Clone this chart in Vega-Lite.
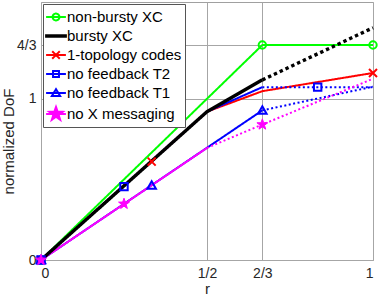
{
  "$schema": "https://vega.github.io/schema/vega-lite/v6.json",
  "width": 332,
  "height": 258,
  "autosize": {"type": "none"},
  "padding": {"left": 41, "top": 2, "right": 8, "bottom": 38},
  "background": "white",
  "config": {
    "font": "Liberation Sans",
    "view": {"stroke": "#a0a0a0", "strokeWidth": 1},
    "axis": {
      "labelFont": "Liberation Sans",
      "titleFont": "Liberation Sans",
      "labelFontSize": 14,
      "titleFontSize": 15,
      "titleFontWeight": "normal",
      "labelColor": "#262626",
      "titleColor": "#262626",
      "gridColor": "#a6a6a6",
      "gridOpacity": 1,
      "gridWidth": 1,
      "ticks": false,
      "domain": false
    },
    "legend": {
      "orient": "top-left",
      "offset": 1.5,
      "padding": 3,
      "fillColor": "white",
      "strokeColor": "#555555",
      "labelFont": "Liberation Sans",
      "labelFontSize": 15,
      "labelColor": "#000000",
      "labelOffset": 1,
      "symbolSize": 324,
      "symbolStrokeWidth": 2,
      "symbolOpacity": 1,
      "symbolDash": [1, 0],
      "rowPadding": 1,
      "labelLimit": 300
    }
  },
  "datasets": {
    "lines": [
      {"series": "non-bursty XC", "segment": "main", "r": 0, "dof": 0},
      {"series": "non-bursty XC", "segment": "main", "r": 0.666667, "dof": 1.333333},
      {"series": "non-bursty XC", "segment": "main", "r": 1, "dof": 1.333333},
      {"series": "1-topology codes", "segment": "main", "r": 0, "dof": 0},
      {"series": "1-topology codes", "segment": "main", "r": 0.5, "dof": 0.92},
      {"series": "1-topology codes", "segment": "main", "r": 0.666667, "dof": 1.047},
      {"series": "1-topology codes", "segment": "main", "r": 1, "dof": 1.16},
      {"series": "no feedback T2", "segment": "main", "r": 0, "dof": 0},
      {"series": "no feedback T2", "segment": "main", "r": 0.5, "dof": 0.92},
      {"series": "no feedback T2", "segment": "main", "r": 0.666667, "dof": 1.072},
      {"series": "no feedback T2", "segment": "extension", "r": 0.666667, "dof": 1.072},
      {"series": "no feedback T2", "segment": "extension", "r": 1, "dof": 1.072},
      {"series": "no feedback T1", "segment": "main", "r": 0, "dof": 0},
      {"series": "no feedback T1", "segment": "main", "r": 0.666667, "dof": 0.928},
      {"series": "no feedback T1", "segment": "extension", "r": 0.666667, "dof": 0.928},
      {"series": "no feedback T1", "segment": "extension", "r": 1, "dof": 1.075},
      {"series": "no X messaging", "segment": "main", "r": 0, "dof": 0},
      {"series": "no X messaging", "segment": "main", "r": 0.5, "dof": 0.695},
      {"series": "no X messaging", "segment": "extension", "r": 0.5, "dof": 0.695},
      {"series": "no X messaging", "segment": "extension", "r": 0.666667, "dof": 0.84},
      {"series": "no X messaging", "segment": "extension", "r": 1, "dof": 1.124},
      {"series": "bursty XC", "segment": "main", "r": 0, "dof": 0},
      {"series": "bursty XC", "segment": "main", "r": 0.5, "dof": 0.92},
      {"series": "bursty XC", "segment": "main", "r": 0.666667, "dof": 1.117},
      {"series": "bursty XC", "segment": "extension", "r": 0.666667, "dof": 1.117},
      {"series": "bursty XC", "segment": "extension", "r": 1, "dof": 1.44}
    ],
    "markers": [
      {"series": "non-bursty XC", "r": 0, "dof": 0},
      {"series": "non-bursty XC", "r": 0.666667, "dof": 1.333333},
      {"series": "non-bursty XC", "r": 1, "dof": 1.333333},
      {"series": "1-topology codes", "r": 0, "dof": 0},
      {"series": "1-topology codes", "r": 0.333333, "dof": 0.61},
      {"series": "1-topology codes", "r": 1, "dof": 1.16},
      {"series": "no feedback T2", "r": 0, "dof": 0},
      {"series": "no feedback T2", "r": 0.25, "dof": 0.455},
      {"series": "no feedback T2", "r": 0.833333, "dof": 1.072},
      {"series": "no feedback T1", "r": 0, "dof": 0},
      {"series": "no feedback T1", "r": 0.333333, "dof": 0.463},
      {"series": "no feedback T1", "r": 0.666667, "dof": 0.928},
      {"series": "no X messaging", "r": 0, "dof": 0},
      {"series": "no X messaging", "r": 0.25, "dof": 0.348},
      {"series": "no X messaging", "r": 0.666667, "dof": 0.84}
    ]
  },
  "encoding": {
    "x": {
      "field": "r", "type": "quantitative",
      "scale": {"domain": [0, 1], "nice": false, "zero": false},
      "axis": {
        "title": "r",
        "values": [0, 0.5, 0.666667, 1],
        "labelExpr": "datum.value == 0 ? '0' : datum.value == 0.5 ? '1/2' : datum.value == 1 ? '1' : '2/3'",
        "labelPadding": 6,
        "titlePadding": 1,
        "grid": true
      }
    },
    "y": {
      "field": "dof", "type": "quantitative",
      "scale": {"domain": [0, 1.6], "nice": false, "zero": false},
      "axis": {
        "title": "normalized DoF",
        "values": [0, 1, 1.333333],
        "labelExpr": "datum.value == 0 ? '0' : datum.value == 1 ? '1' : '4/3'",
        "labelPadding": 5,
        "titlePadding": 0,
        "titleY": 139,
        "grid": true
      }
    }
  },
  "layer": [
    {
      "data": {"name": "markers"},
      "transform": [{"filter": "false"}],
      "mark": {"type": "point", "filled": false, "size": 324, "strokeWidth": 2, "opacity": 1},
      "encoding": {
        "stroke": {
          "field": "series", "type": "nominal",
          "scale": {
            "domain": ["non-bursty XC", "bursty XC", "1-topology codes", "no feedback T2", "no feedback T1", "no X messaging"],
            "range": ["#00ff00", "#000000", "#ff0000", "#0000ff", "#0000ff", "#ff00ff"]
          },
          "legend": {"title": null}
        },
        "fill": {
          "field": "series", "type": "nominal",
          "scale": {
            "domain": ["non-bursty XC", "bursty XC", "1-topology codes", "no feedback T2", "no feedback T1", "no X messaging"],
            "range": ["transparent", "#000000", "transparent", "transparent", "transparent", "#ff00ff"]
          },
          "legend": {"title": null}
        },
        "shape": {
          "field": "series", "type": "nominal",
          "scale": {
            "domain": ["non-bursty XC", "bursty XC", "1-topology codes", "no feedback T2", "no feedback T1", "no X messaging"],
            "range": [
              "M-1.1,0H1.1M-0.38,0A0.38,0.38 0 1,0 0.38,0A0.38,0.38 0 1,0 -0.38,0",
              "M-1.1,-0.08H1.1V0.08H-1.1Z",
              "M-1.1,0H1.1M-0.42,-0.42L0.42,0.42M-0.42,0.42L0.42,-0.42",
              "M-1.1,0H1.1M-0.33,-0.33H0.33V0.33H-0.33Z",
              "M-1.1,0H1.1M0,-0.42L0.46,0.33H-0.46Z",
              "M-1.1,0H1.1M0,-0.78L0.183,-0.253L0.742,-0.241L0.296,0.097L0.459,0.631L0,0.312L-0.459,0.631L-0.296,0.097L-0.742,-0.241L-0.183,-0.253Z"
            ]
          },
          "legend": {"title": null}
        }
      }
    },
    {
      "data": {"name": "lines"},
      "transform": [{"filter": "datum.series != 'bursty XC'"}],
      "mark": {"type": "line", "strokeWidth": 2, "strokeCap": "butt", "strokeJoin": "round"},
      "encoding": {
        "stroke": {"field": "series", "type": "nominal"},
        "detail": {"field": "segment", "type": "nominal"},
        "strokeDash": {
          "condition": {"test": "datum.segment === 'extension'", "value": [2, 2.5]},
          "value": [1, 0]
        },
        "order": {"field": "r", "type": "quantitative"}
      }
    },
    {
      "data": {"name": "lines"},
      "transform": [{"filter": "datum.series == 'bursty XC'"}],
      "mark": {"type": "line", "strokeWidth": 3.4, "strokeCap": "butt", "strokeJoin": "round"},
      "encoding": {
        "stroke": {"field": "series", "type": "nominal"},
        "detail": {"field": "segment", "type": "nominal"},
        "strokeDash": {
          "condition": {"test": "datum.segment === 'extension'", "value": [3.4, 3]},
          "value": [1, 0]
        },
        "order": {"field": "r", "type": "quantitative"}
      }
    },
    {
      "data": {"name": "markers"},
      "transform": [{"filter": "datum.series == 'non-bursty XC'"}],
      "mark": {"type": "point", "shape": "circle", "filled": false, "size": 55, "strokeWidth": 2, "opacity": 1},
      "encoding": {"stroke": {"field": "series", "type": "nominal"}}
    },
    {
      "data": {"name": "markers"},
      "transform": [{"filter": "datum.series == '1-topology codes'"}],
      "mark": {"type": "point", "shape": "M-1,-1L1,1M-1,1L1,-1", "filled": false, "size": 64, "strokeWidth": 2, "opacity": 1},
      "encoding": {"stroke": {"field": "series", "type": "nominal"}}
    },
    {
      "data": {"name": "markers"},
      "transform": [{"filter": "datum.series == 'no feedback T2'"}],
      "mark": {"type": "point", "shape": "square", "filled": false, "size": 55, "strokeWidth": 2, "opacity": 1},
      "encoding": {"stroke": {"field": "series", "type": "nominal"}}
    },
    {
      "data": {"name": "markers"},
      "transform": [{"filter": "datum.series == 'no feedback T1'"}],
      "mark": {"type": "point", "shape": "M0,-0.9L0.95,0.75H-0.95Z", "filled": false, "size": 80, "strokeWidth": 2, "opacity": 1},
      "encoding": {"stroke": {"field": "series", "type": "nominal"}}
    },
    {
      "data": {"name": "markers"},
      "transform": [{"filter": "datum.series == 'no X messaging'"}],
      "mark": {"type": "point", "shape": "M0,-1L0.235,-0.324L0.951,-0.309L0.38,0.124L0.588,0.809L0,0.4L-0.588,0.809L-0.38,0.124L-0.951,-0.309L-0.235,-0.324Z", "filled": false, "size": 130, "strokeWidth": 1, "opacity": 1},
      "encoding": {
        "stroke": {"field": "series", "type": "nominal"},
        "fill": {"field": "series", "type": "nominal"}
      }
    }
  ]
}
